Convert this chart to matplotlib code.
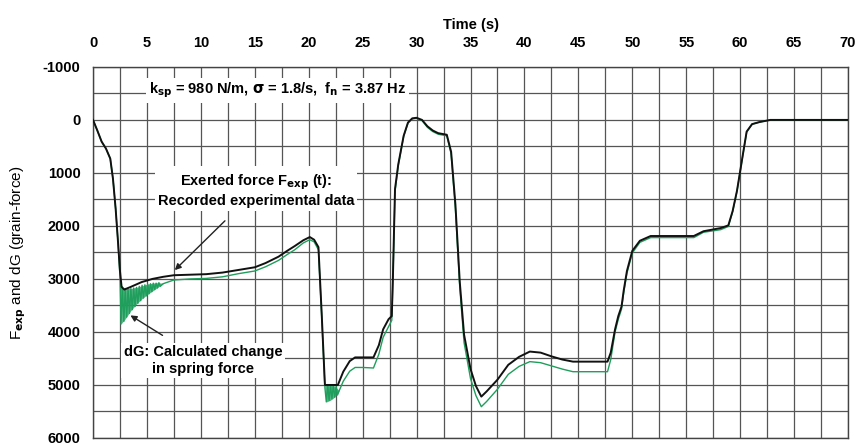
import matplotlib
matplotlib.use('Agg')
import matplotlib.pyplot as plt
from matplotlib.ticker import MultipleLocator

plt.rcParams['font.family'] = ['Liberation Sans', 'DejaVu Sans']
plt.rcParams['font.weight'] = 'bold'
plt.rcParams['axes.unicode_minus'] = False

# Exerted force F_exp(t), recorded data (grain-force)
t_exp = [0, 0.4, 0.8, 1.2, 1.6, 1.85, 2.1, 2.3, 2.5, 2.65, 2.9, 3.5, 4.5, 5.5,
         6.5, 7.5, 9, 10.5, 12, 13.5, 15, 16, 17.2, 18, 18.7, 19.5, 20.1, 20.5,
         20.9, 21.2, 21.5, 22.0, 22.7, 23.2, 23.8, 24.3, 25.0, 26.0, 26.5, 26.9,
         27.4, 27.7, 27.8, 28.0, 28.3, 28.8, 29.2, 29.6, 30.0, 30.5, 31.0, 31.5,
         32.0, 32.8, 33.2, 33.6, 34.0, 34.4, 35.0, 35.5, 36.0, 36.5, 37.5, 38.5,
         39.5, 40.5, 41.5, 42.5, 43.5, 44.5, 47.7, 48.0, 48.4, 48.7, 49.0, 49.2,
         49.5, 50.0, 50.7, 51.7, 55.7, 56.6, 58.2, 58.9, 59.3, 59.7, 60.3, 60.6,
         61.1, 61.8, 62.8, 70]
f_exp = [0, 200, 410, 540, 730, 1110, 1680, 2250, 2850, 3150, 3200, 3150, 3060,
         3000, 2960, 2930, 2920, 2910, 2880, 2830, 2780, 2700, 2580, 2470, 2380,
         2270, 2210, 2260, 2400, 3650, 5000, 5000, 5000, 4750, 4550, 4480, 4480,
         4480, 4250, 3950, 3760, 3700, 3000, 1300, 840, 300, 50, -30, -40, 0, 120,
         200, 250, 280, 600, 1600, 3050, 4050, 4700, 5020, 5220, 5120, 4900, 4620,
         4470, 4370, 4390, 4460, 4520, 4560, 4560, 4390, 3950, 3700, 3520, 3220,
         2850, 2470, 2280, 2190, 2190, 2100, 2040, 1990, 1720, 1340, 590, 220, 80,
         40, 0, 0]

# dG: calculated change in spring force (grain-force)
t_dg = [0, 0.4, 0.8, 1.2, 1.6, 1.85, 2.1, 2.3, 2.5, 2.6, 2.73, 2.86, 2.99, 3.12,
        3.25, 3.38, 3.51, 3.64, 3.77, 3.90, 4.03, 4.16, 4.29, 4.42, 4.55, 4.68,
        4.81, 4.94, 5.07, 5.20, 5.33, 5.46, 5.59, 5.72, 5.85, 5.98, 6.11, 6.24,
        6.5, 7.5, 9, 10.5, 12, 13.5, 15, 16, 17.2, 18, 18.7, 19.5, 20.1, 20.5,
        20.9, 21.2, 21.5, 21.63, 21.76, 21.89, 22.02, 22.15, 22.28, 22.41, 22.54,
        22.67, 22.8, 23.2, 23.8, 24.3, 25.0, 26.0, 26.5, 26.9, 27.4, 27.7, 27.8,
        28.0, 28.3, 28.8, 29.2, 29.6, 30.0, 30.5, 31.0, 31.5, 32.0, 32.8, 33.2,
        33.6, 34.0, 34.4, 35.0, 35.5, 36.0, 36.5, 37.5, 38.5, 39.5, 40.5, 41.5,
        42.5, 43.5, 44.5, 47.7, 48.0, 48.4, 48.7, 49.0, 49.2, 49.5, 50.0, 50.7,
        51.7, 55.7, 56.6, 58.2, 58.9, 59.3, 59.7, 60.3, 60.6, 61.1, 61.8, 62.8, 70]
f_dg = [0, 200, 410, 540, 730, 1110, 1680, 2250, 2950, 3850, 3150, 3800, 3180,
        3720, 3200, 3650, 3180, 3580, 3170, 3520, 3160, 3460, 3140, 3410, 3120,
        3360, 3110, 3320, 3100, 3280, 3090, 3240, 3080, 3200, 3080, 3170, 3070,
        3140, 3090, 3020, 3000, 2990, 2960, 2900, 2850, 2770, 2650, 2540, 2450,
        2320, 2260, 2300, 2450, 3700, 5050, 5320, 5000, 5290, 5010, 5260, 5010,
        5230, 5030, 5190, 5120, 4930, 4740, 4670, 4670, 4680, 4420, 4100, 3900,
        3780, 3050, 1350, 860, 310, 60, -20, -30, 10, 140, 220, 270, 300, 640,
        1680, 3150, 4200, 4880, 5200, 5410, 5310, 5080, 4800, 4650, 4560, 4580,
        4640, 4700, 4750, 4750, 4520, 4000, 3760, 3570, 3260, 2890, 2510, 2310,
        2220, 2220, 2120, 2070, 2010, 1730, 1350, 600, 230, 80, 40, 0, 0]

# envelopes of the fast dG oscillation (blurred band in the figure)
t_band1 = [2.5, 2.6, 3.0, 3.5, 4.0, 4.5, 5.0, 5.5, 6.0, 6.5]
band1_top = [2950, 3150, 3180, 3180, 3160, 3130, 3100, 3080, 3070, 3080]
band1_bot = [2950, 3850, 3750, 3600, 3480, 3380, 3300, 3230, 3160, 3090]
t_band2 = [21.5, 21.65, 22.0, 22.4, 22.8]
band2_top = [5000, 5000, 5000, 5020, 5100]
band2_bot = [5050, 5320, 5290, 5230, 5120]

GREEN = '#1f9e5c'

fig = plt.figure(figsize=(8.58, 4.46), dpi=100)
ax = fig.add_axes([0.1084, 0.018, 0.88, 0.832])

ax.fill_between(t_band1, band1_top, band1_bot, color=GREEN, alpha=0.75, lw=0, zorder=3)
ax.fill_between(t_band2, band2_top, band2_bot, color=GREEN, alpha=0.75, lw=0, zorder=3)
ax.plot(t_dg, f_dg, color=GREEN, lw=1.0, zorder=3)
ax.plot(t_exp, f_exp, color='#111111', lw=1.4, zorder=4)

ax.set_xlim(0, 70)
ax.set_ylim(6000, -1000)
ax.xaxis.tick_top()
ax.xaxis.set_label_position('top')
ax.xaxis.set_major_locator(MultipleLocator(5))
ax.xaxis.set_minor_locator(MultipleLocator(2.5))
ax.yaxis.set_major_locator(MultipleLocator(1000))
ax.yaxis.set_minor_locator(MultipleLocator(500))
ax.grid(which='both', color='#555555', lw=0.9)
ax.set_axisbelow(True)
ax.tick_params(which='both', length=0, labelsize=10.5)
ax.tick_params(axis='x', pad=12)
ax.tick_params(axis='y', pad=9)
for s in ax.spines.values():
    s.set_color('#444444')
    s.set_linewidth(1.0)

ax.set_xlabel('Time (s)', fontsize=10.5, fontweight='bold', labelpad=5)
ax.set_ylabel('F$_{\\mathrm{exp}}$ and dG (grain-force)', fontsize=11,
              fontweight='normal')
ax.yaxis.set_label_coords(-0.086, 0.5)

box = dict(facecolor='white', edgecolor='none', pad=2)
ax.text(17.1, -560, 'k$_{\\mathbf{sp}}$ = 980 N/m, $\\mathbf{\\sigma}$ = 1.8/s,  f$_{\\mathbf{n}}$ = 3.87 Hz',
        ha='center', va='center', fontsize=10.5, fontweight='bold', bbox=box, zorder=5)
ax.annotate('Exerted force F$_{\\mathbf{exp}}$ (t):\nRecorded experimental data',
            xy=(7.4, 2870), xytext=(15.1, 1330), ha='center', va='center',
            fontsize=10.5, fontweight='bold', bbox=box, zorder=5,
            arrowprops=dict(arrowstyle='-|>', color='#222222', lw=1.0,
                            mutation_scale=9, shrinkA=10))
ax.annotate('dG: Calculated change\nin spring force',
            xy=(3.25, 3660), xytext=(10.2, 4540), ha='center', va='center',
            fontsize=10.5, fontweight='bold', bbox=box, zorder=5,
            arrowprops=dict(arrowstyle='-|>', color='#222222', lw=1.0,
                            mutation_scale=9, shrinkA=10))

fig.savefig('out.png', dpi=100)
